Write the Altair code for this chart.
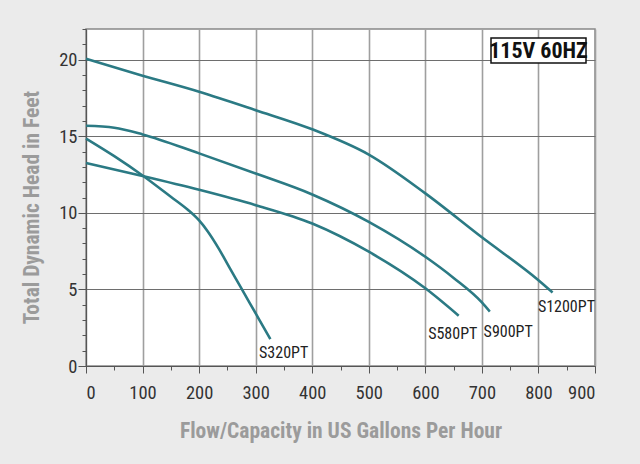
import altair as alt
import pandas as pd

# ---- data ----
s1200_x = [0, 100, 200, 300, 400, 500, 600, 700, 800, 825]
s1200_y = [20.05, 18.95, 17.9, 16.7, 15.45, 13.8, 11.27, 8.4, 5.6, 4.8]

s900_x = [0, 50, 100, 200, 300, 400, 500, 600, 650, 700, 714]
s900_y = [15.68, 15.55, 15.12, 13.88, 12.57, 11.2, 9.41, 7.13, 5.75, 4.15, 3.55]

s580_x = [0, 100, 200, 300, 400, 500, 600, 659]
s580_y = [13.25, 12.4, 11.5, 10.5, 9.3, 7.46, 5.07, 3.28]

s320_x = [0, 50, 100, 150, 180, 200, 215, 235, 253, 272, 307, 326]
s320_y = [14.85, 13.7, 12.44, 11.05, 10.2, 9.5, 8.8, 7.65, 6.47, 5.25, 2.98, 1.76]

series_names = ["S1200PT", "S900PT", "S580PT", "S320PT"]
label_x = [799, 703, 605, 306]
label_y = [3.87, 2.24, 2.09, 0.83]

badge_text = ["115V 60HZ"]

x_ticks = list(range(0, 901, 50))
y_ticks = list(range(0, 23, 1))

rows = []
for name, xs, ys in zip(series_names,
                        [s1200_x, s900_x, s580_x, s320_x],
                        [s1200_y, s900_y, s580_y, s320_y]):
    for i, (a, b) in enumerate(zip(xs, ys)):
        rows.append({"series": name, "flow": a, "head": b, "order": i})
df = pd.DataFrame(rows)
labels_df = pd.DataFrame({"series": series_names, "flow": label_x, "head": label_y})

FONT = "Roboto Condensed"
TEAL = "#2b7a84"

x_scale = alt.Scale(domain=[0, 900], nice=False)
y_scale = alt.Scale(domain=[0, 22], nice=False)

x_axis = alt.Axis(
    values=x_ticks,
    title="Flow/Capacity in US Gallons Per Hour",
    labelExpr="datum.value % 100 === 0 ? datum.label : ''",
    labelOverlap=False,
    gridOpacity={"condition": {"test": "datum.value % 100 !== 0", "value": 0}, "value": 1},
    gridColor="#9f9f9f",
    gridWidth=1.6,
    tickColor="#555",
    tickSize={"condition": {"test": "datum.value % 100 !== 0", "value": 4}, "value": 7},
    domainColor="#555",
    labelFont=FONT, labelFontSize=18.5, labelColor="#333",
    labelPadding=10,
    titleFont=FONT, titleFontSize=21.5, titleFontWeight="bold", titleColor="#9b9b9b",
    titleBaseline="alphabetic",
    titleY=71,
)
y_axis = alt.Axis(
    values=y_ticks,
    title="Total Dynamic Head in Feet",
    labelExpr="datum.value % 5 === 0 ? datum.label : ''",
    labelOverlap=False,
    gridOpacity={"condition": {"test": "datum.value % 5 !== 0", "value": 0}, "value": 1},
    gridColor="#6e6e6e",
    gridWidth=1,
    tickColor="#555",
    tickSize={"condition": {"test": "datum.value % 5 !== 0", "value": 4}, "value": 8},
    domainColor="#555",
    labelFont=FONT, labelFontSize=18.5, labelColor="#333",
    labelPadding=1,
    titleFont=FONT, titleFontSize=21.5, titleFontWeight="bold", titleColor="#9b9b9b",
    titleBaseline="alphabetic",
    titleX=-48,
    titleY=178,
)

lines = alt.Chart(df).mark_line(color=TEAL, strokeWidth=2.6, interpolate="monotone").encode(
    x=alt.X("flow:Q", scale=x_scale, axis=x_axis),
    y=alt.Y("head:Q", scale=y_scale, axis=y_axis),
    detail="series:N",
    order="order:Q",
)

texts = alt.Chart(labels_df).mark_text(
    align="left", baseline="middle", font=FONT, fontSize=16, color="#222"
).encode(
    x=alt.X("flow:Q", scale=x_scale, axis=x_axis),
    y=alt.Y("head:Q", scale=y_scale, axis=y_axis),
    text="series:N",
)

badge_df = pd.DataFrame({"t": badge_text})
box = alt.Chart(badge_df).mark_rect(
    fill="white", stroke="#111", strokeWidth=1.5
).encode(
    x=alt.value(405), x2=alt.value(500), y=alt.value(9), y2=alt.value(34)
)
box_text = alt.Chart(badge_df).mark_text(
    font=FONT, fontSize=22, fontWeight="bold", color="#111", align="center", baseline="middle"
).encode(
    x=alt.value(452.5), y=alt.value(22), text="t:N"
)

chart = alt.layer(lines, texts, box, box_text).properties(
    width=509, height=337,
    background="#ebebeb",
    padding={"left": 86, "top": 29, "right": 45, "bottom": 98},
    autosize=alt.AutoSizeParams(type="none"),
).configure_view(
    fill="white", stroke="#888", strokeWidth=1.5
)

chart.save("out.html", embed_options={"renderer": "svg", "actions": False})
